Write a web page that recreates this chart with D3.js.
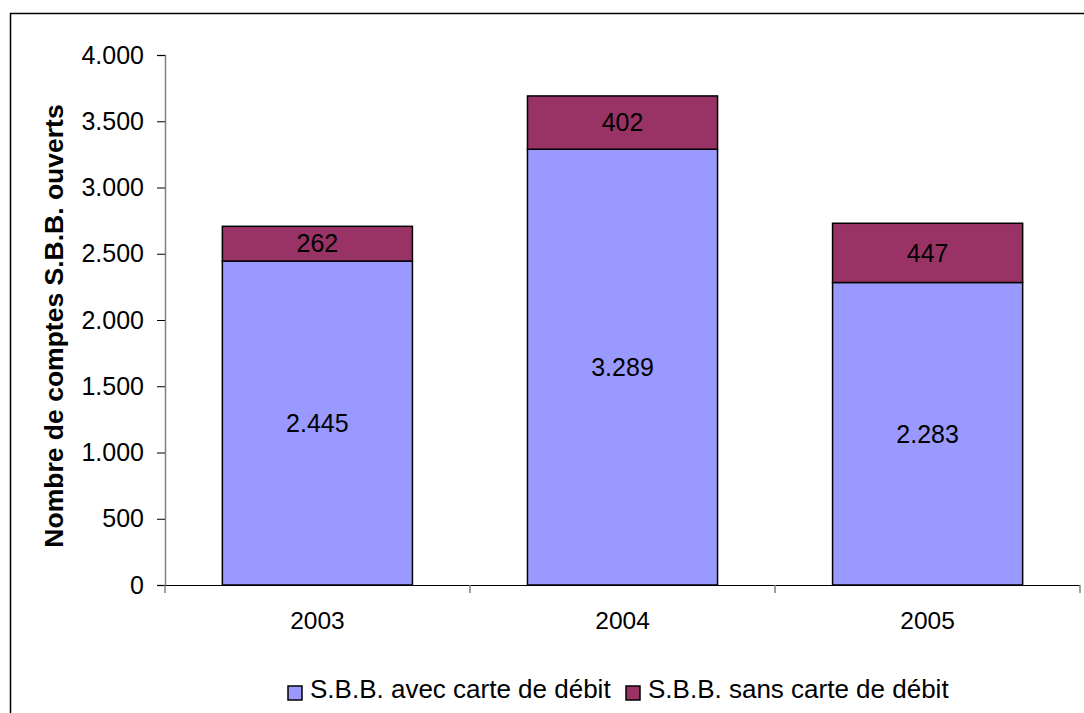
<!DOCTYPE html>
<html>
<head>
<meta charset="utf-8">
<script src="https://cdn.jsdelivr.net/npm/d3@7"></script>
<style>
  body { margin: 0; background: #fff; }
  svg { display: block; font-family: "Liberation Sans", Arial, sans-serif; }
</style>
</head>
<body>
<div id="chart"></div>
<script>
const years = ['2003', '2004', '2005'];
const avecCarte = [2445, 3289, 2283];
const sansCarte = [262, 402, 447];
const yTicks = [0, 500, 1000, 1500, 2000, 2500, 3000, 3500, 4000];
const seriesNames = ['S.B.B. avec carte de débit', 'S.B.B. sans carte de débit'];
const colors = ['#9999ff', '#993366'];

const width = 1084, height = 713;
const fmt = d3.formatLocale({ decimal: ',', thousands: '.', grouping: [3] }).format(',d');

const svg = d3.select('#chart').append('svg')
    .attr('width', width)
    .attr('height', height);

// outer frame (runs off the right and bottom edge like the original)
svg.append('rect')
    .attr('x', 10.5).attr('y', 13.5)
    .attr('width', 1100).attr('height', 800)
    .attr('fill', 'none').attr('stroke', '#000').attr('stroke-width', 1.5);

const x = d3.scaleBand().domain(years).range([165, 1080]).paddingInner(0.377).paddingOuter(0.188);
const y = d3.scaleLinear().domain([0, 4000]).range([585, 55]);

// y axis
const yAxis = svg.append('g').attr('transform', 'translate(165,0)')
    .call(d3.axisLeft(y).tickValues(yTicks).tickSize(8).tickFormat(fmt));
yAxis.select('.domain').attr('stroke', '#808080').attr('stroke-width', 1.5);
yAxis.selectAll('.tick line').attr('stroke', '#000');
yAxis.selectAll('.tick text').attr('font-size', 25).attr('fill', '#000').attr('x', -21);

// bars
const stack = years.map((yr, i) => ({ year: yr, a: avecCarte[i], b: sansCarte[i] }));
const g = svg.append('g');
g.selectAll('rect.a').data(stack).enter().append('rect')
    .attr('x', d => x(d.year)).attr('width', x.bandwidth())
    .attr('y', d => y(d.a)).attr('height', d => y(0) - y(d.a))
    .attr('fill', colors[0]).attr('stroke', '#000').attr('stroke-width', 1.5);
g.selectAll('rect.b').data(stack).enter().append('rect')
    .attr('x', d => x(d.year)).attr('width', x.bandwidth())
    .attr('y', d => y(d.a + d.b)).attr('height', d => y(d.a) - y(d.a + d.b))
    .attr('fill', colors[1]).attr('stroke', '#000').attr('stroke-width', 1.5);

g.selectAll('text.a').data(stack).enter().append('text')
    .attr('x', d => x(d.year) + x.bandwidth() / 2)
    .attr('y', d => y(d.a / 2)).attr('dy', '0.35em')
    .attr('text-anchor', 'middle').attr('font-size', 25)
    .text(d => fmt(d.a));
g.selectAll('text.b').data(stack).enter().append('text')
    .attr('x', d => x(d.year) + x.bandwidth() / 2)
    .attr('y', d => y(d.a + d.b / 2)).attr('dy', '0.35em')
    .attr('text-anchor', 'middle').attr('font-size', 25)
    .text(d => fmt(d.b));

// x axis
const xAxis = svg.append('g').attr('transform', 'translate(0,585)')
    .call(d3.axisBottom(x).tickSize(0).tickPadding(27));
xAxis.select('.domain').remove();
xAxis.selectAll('.tick text').attr('font-size', 24.5).attr('fill', '#000');
svg.append('line').attr('x1', 157).attr('x2', 1080).attr('y1', 585.5).attr('y2', 585.5)
    .attr('stroke', '#000').attr('stroke-width', 1.2);
const bounds = [165].concat(years.map(yr => x(yr) + x.bandwidth() + x.step() * x.paddingInner() / 2));
bounds[bounds.length - 1] = 1080;
svg.selectAll('line.sep').data(bounds).enter().append('line')
    .attr('x1', d => d).attr('x2', d => d).attr('y1', 585).attr('y2', 593)
    .attr('stroke', '#808080').attr('stroke-width', 1.5);

// y title
svg.append('text')
    .attr('transform', 'translate(63,326) rotate(-90)')
    .attr('text-anchor', 'middle').attr('font-size', 26.5).attr('font-weight', 'bold')
    .text('Nombre de comptes S.B.B. ouverts');

// legend
const legX = [288, 626];
const leg = svg.selectAll('g.leg').data(seriesNames).enter().append('g')
    .attr('transform', (d, i) => `translate(${legX[i]},693)`);
leg.append('rect').attr('x', 0).attr('y', -7).attr('width', 14).attr('height', 14)
    .attr('fill', (d, i) => colors[i]).attr('stroke', '#000').attr('stroke-width', 1.5);
leg.append('text').attr('x', 22).attr('y', 5).attr('font-size', 26).text(d => d);
</script>
</body>
</html>
